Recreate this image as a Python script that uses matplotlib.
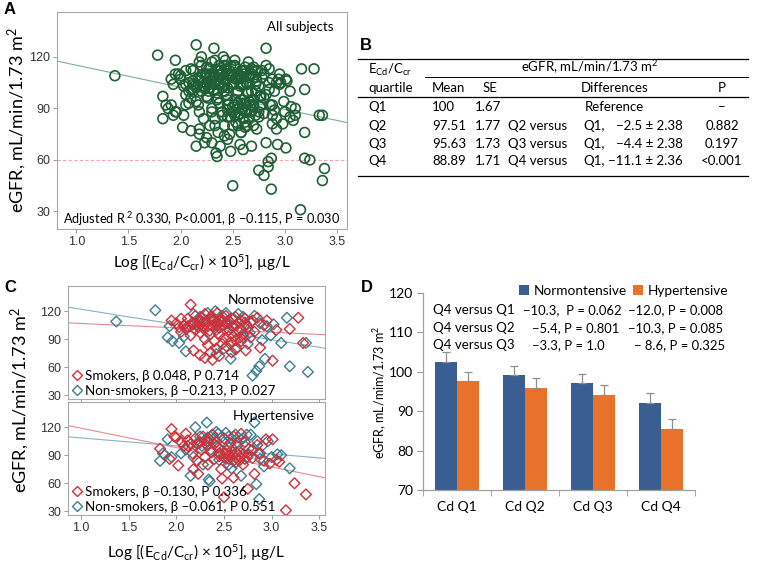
import numpy as np
import matplotlib
matplotlib.use('Agg')
import matplotlib.pyplot as plt
from matplotlib.lines import Line2D
from matplotlib.patches import Patch

plt.rcParams['font.family'] = ['Lato', 'DejaVu Sans']
plt.rcParams['mathtext.fontset'] = 'custom'
plt.rcParams['mathtext.rm'] = 'Lato'
plt.rcParams['mathtext.it'] = 'Lato:italic'
plt.rcParams['mathtext.bf'] = 'Lato:bold'

# ---------------- data ----------------
# Normotensive smokers
ns_x = [1.95,2.00,2.03,2.05,2.08,2.10,2.12,2.15,2.15,2.17,2.18,2.20,2.20,2.22,2.24,2.25,2.25,2.27,2.28,2.30,
        2.30,2.30,2.32,2.33,2.35,2.35,2.36,2.37,2.38,2.38,2.40,2.40,2.42,2.42,2.43,2.44,2.45,2.45,2.47,2.48,
        2.50,2.50,2.52,2.53,2.55,2.55,2.57,2.58,2.60,2.60,2.62,2.63,2.65,2.66,2.68,2.70,2.72,2.73,2.75,2.78,
        2.80,2.82,2.85,2.88,2.92,2.95,3.01,3.05,3.19,3.28,3.33,
        2.05,2.12,2.18,2.23,2.28,2.33,2.38,2.43,2.48,2.53,2.58,2.63,2.68,2.73,2.78,2.55,2.62,2.67]
ns_y = [110,107,103,98,105,101,112,127,94,108,78,115,100,105,110,97,73,113,102,117,
        90,70,108,84,112,99,76,115,104,68,110,88,100,80,118,107,95,72,112,85,
        105,91,115,82,100,110,87,76,104,93,114,80,99,108,88,95,112,78,103,92,
        110,98,113,81,105,110,67,100,101,113,86,
        112,104,106,103,108,104,110,106,109,107,112,105,110,106,108,93,89,92]
# Normotensive non-smokers
nn_x = [1.37,1.78,1.91,1.93,1.96,2.03,2.08,2.10,2.18,2.22,2.28,2.33,2.38,2.41,2.45,2.48,2.52,2.55,2.57,2.60,
        2.62,2.65,2.68,2.70,2.72,2.75,2.77,2.80,2.82,2.84,2.87,2.90,2.93,2.99,3.02,3.10,3.16,3.19,3.36,3.38,
        2.35,2.50,2.42,2.15,2.25,2.45,2.58,2.70,2.88,2.95]
nn_y = [109,121,92,104,88,86,93,77,117,110,104,118,112,120,102,115,118,107,69,112,
        79,117,100,92,108,85,97,51,115,56,61,89,69,94,106,86,113,61,86,55,
        95,80,74,104,114,110,104,114,107,104]
# Hypertensive smokers
hs_x = [1.83,1.93,1.95,1.98,2.00,2.02,2.05,2.08,2.10,2.12,2.15,2.17,2.18,2.20,2.22,2.23,2.25,2.26,2.28,2.30,
        2.32,2.33,2.35,2.37,2.38,2.40,2.42,2.44,2.45,2.47,2.48,2.50,2.50,2.52,2.55,2.57,2.58,2.60,2.62,2.64,
        2.66,2.68,2.70,2.72,2.75,2.76,2.80,2.82,2.85,2.88,2.92,2.94,2.98,3.01,3.05,3.08,3.15,3.24,3.36,2.60,2.70,
        2.45,2.50,2.53,2.56,2.60,2.63,2.67,2.72,2.76,2.12,2.22,2.32,2.40]
hs_y = [97,86,118,110,109,79,104,100,113,106,102,92,75,108,84,70,104,96,110,88,
        101,80,107,93,112,86,104,98,89,75,65,45,108,92,86,103,95,110,88,100,
        84,113,91,104,54,97,87,70,101,92,84,107,81,107,85,83,31,60,48,66,80,
        92,88,95,90,84,93,88,86,91,100,102,105,102]
# Hypertensive non-smokers
hn_x = [1.83,1.86,1.91,2.05,2.10,2.15,2.18,2.20,2.22,2.25,2.28,2.30,2.32,2.34,2.35,2.36,2.38,2.40,2.42,2.44,
        2.46,2.48,2.50,2.52,2.54,2.55,2.58,2.60,2.62,2.64,2.66,2.68,2.70,2.72,2.75,2.78,2.80,2.82,2.84,2.86,
        2.87,2.88,2.90,2.92,2.96,3.00,3.06,3.10,3.19,2.45,2.58,
        2.27,2.33,2.42,2.55,2.65,2.74,2.85,2.52,2.62,1.88,1.95]
hn_y = [84,92,107,92,96,68,88,120,103,110,80,106,125,64,62,96,112,108,100,113,
        92,110,104,114,99,80,108,90,112,104,94,68,108,100,88,112,96,125,59,92,
        43,86,100,78,105,88,91,90,76,85,76,
        100,109,115,110,109,112,105,86,82,90,88]

# regression lines (intercept, slope)
all_line = (128.0, -12.86)
norm_smk_line = (111.6, -4.7)
norm_non_line = (138.4, -16.3)
hyp_smk_line = (139.8, -20.8)
hyp_non_line = (117.1, -8.56)

# table B
tb_quart = ['Q1', 'Q2', 'Q3', 'Q4']
tb_mean = ['100', '97.51', '95.63', '88.89']
tb_se = ['1.67', '1.77', '1.73', '1.71']
tb_diff = ['', '\u22122.5 \u00b1 2.38', '\u22124.4 \u00b1 2.38', '\u221211.1 \u00b1 2.36']
tb_p = ['\u2013', '0.882', '0.197', '<0.001']

# panel D
d_cats = ['Cd Q1', 'Cd Q2', 'Cd Q3', 'Cd Q4']
d_norm = [102.5, 99.2, 97.1, 92.2]
d_norm_err = [2.4, 2.3, 2.3, 2.5]
d_hyp = [97.6, 95.9, 94.2, 85.6]
d_hyp_err = [2.4, 2.6, 2.5, 2.4]
d_rows = ['Q4 versus Q1', 'Q4 versus Q2', 'Q4 versus Q3']
d_norm_txt = ['\u221210.3,  P = 0.062', '\u22125.4, P = 0.801', '\u22123.3, P = 1.0']
d_hyp_txt = ['\u221212.0, P = 0.008', '\u221210.3, P = 0.085', '\u2212 8.6, P = 0.325']

# ---------------- figure ----------------
W, H = 759, 565
fig = plt.figure(figsize=(W/100, H/100), dpi=100)

def add_ax(l, t, r, b):
    return fig.add_axes([l/W, 1-b/H, (r-l)/W, (b-t)/H])

def ftext(x, y, s, **kw):
    return fig.text(x/W, 1-y/H, s, **kw)

def hline(x0, x1, y, lw=0.9, color='black'):
    fig.add_artist(Line2D([x0/W, x1/W], [1-y/H, 1-y/H], transform=fig.transFigure,
                          color=color, lw=lw))

ARIAL = 'Liberation Sans'
XLAB = r'Log [(E$_{\mathrm{Cd}}$/C$_{\mathrm{cr}}$) × 10$^{5}$], µg/L'
YLAB = r'eGFR, mL/min/1.73 m$^{2}$'
GREEN = '#1f5f35'
RED = '#d0303a'
BLUE = '#3c7d92'

def style_scatter_axes(ax):
    for sp in ax.spines.values():
        sp.set_color('#a8a8a8')
        sp.set_linewidth(0.8)
    ax.tick_params(direction='out', length=3, width=0.7, color='#999999',
                   labelsize=9, labelcolor='#333333', pad=2)
    for lbl in ax.get_xticklabels() + ax.get_yticklabels():
        lbl.set_fontfamily(ARIAL)

# ---- Panel A ----
axA = add_ax(57, 12, 347, 229)
all_x = ns_x + nn_x + hs_x + hn_x
all_y = ns_y + nn_y + hs_y + hn_y
axA.set_xlim(0.815, 3.596)
axA.set_ylim(19.8, 146.1)
axA.axhline(60, color='#f4a3ad', lw=0.8, ls=(0, (3, 2)))
xs = np.array(axA.get_xlim())
axA.plot(xs, all_line[0] + all_line[1]*xs, color='#7db18e', lw=0.8)
axA.scatter(all_x, all_y, s=50, facecolors='none', edgecolors=GREEN, linewidths=1.2, zorder=3)
axA.set_xticks([1.0, 1.5, 2.0, 2.5, 3.0, 3.5])
axA.set_xticklabels(['1.0', '1.5', '2.0', '2.5', '3.0', '3.5'])
axA.set_yticks([30, 60, 90, 120])
style_scatter_axes(axA)
axA.text(0.955, 0.93, 'All subjects', transform=axA.transAxes, ha='right', va='center', fontsize=9.5)
axA.text(0.5, 0.045, 'Adjusted R$^{\\ 2}$ 0.330, P<0.001, β \u22120.115, P = 0.030',
         transform=axA.transAxes, ha='center', va='center', fontsize=9.2)
ftext(202, 263, XLAB, ha='center', va='center', fontsize=11)
ftext(17, 120, YLAB, ha='center', va='center', rotation=90, fontsize=13)
ftext(10, 10, 'A', ha='center', va='center', fontsize=12, fontweight='bold', family=ARIAL)

# ---- Panel C ----
def c_panel(ax, sx, sy, nx, ny, sline, nline, title, slab, nlab, show_x):
    ax.set_xlim(0.864, 3.56)
    ax.set_ylim(26, 147)
    xs = np.array(ax.get_xlim())
    ax.plot(xs, sline[0] + sline[1]*xs, color='#e58a8f', lw=0.8)
    ax.plot(xs, nline[0] + nline[1]*xs, color='#86b3c4', lw=0.8)
    ax.scatter(nx, ny, s=30, marker='D', facecolors='none', edgecolors=BLUE, linewidths=1.0, zorder=3)
    ax.scatter(sx, sy, s=30, marker='D', facecolors='none', edgecolors=RED, linewidths=1.0, zorder=3)
    ax.set_yticks([30, 60, 90, 120])
    ax.set_xticks([1.0, 1.5, 2.0, 2.5, 3.0, 3.5])
    if show_x:
        ax.set_xticklabels(['1.0', '1.5', '2.0', '2.5', '3.0', '3.5'])
    else:
        ax.set_xticklabels([])
        ax.tick_params(axis='x', length=0)
    style_scatter_axes(ax)
    ax.text(0.96, 0.88, title, transform=ax.transAxes, ha='right', va='center', fontsize=10)
    handles = [Line2D([], [], ls='none', marker='D', ms=5.5, mfc='none', mec=RED, mew=1.0),
               Line2D([], [], ls='none', marker='D', ms=5.5, mfc='none', mec=BLUE, mew=1.0)]
    ax.legend(handles, [slab, nlab], loc='lower left', frameon=False, fontsize=9.6,
              handletextpad=0.1, handlelength=1.0, labelspacing=0.25,
              borderaxespad=0.0, borderpad=0.15)

axC1 = add_ax(68, 286, 325, 399)
c_panel(axC1, ns_x, ns_y, nn_x, nn_y, norm_smk_line, norm_non_line, 'Normotensive',
        'Smokers, β 0.048, P 0.714', 'Non-smokers, β \u22120.213, P 0.027', False)
axC2 = add_ax(68, 402, 325, 515)
c_panel(axC2, hs_x, hs_y, hn_x, hn_y, hyp_smk_line, hyp_non_line, 'Hypertensive',
        'Smokers, β \u22120.130, P 0.336', 'Non-smokers, β \u22120.061, P 0.551', True)
ftext(196, 553, XLAB, ha='center', va='center', fontsize=11)
ftext(20, 400, YLAB, ha='center', va='center', rotation=90, fontsize=13)
ftext(10, 288, 'C', ha='center', va='center', fontsize=12, fontweight='bold', family=ARIAL)

# ---- Panel B (table) ----
ftext(366, 46, 'B', ha='center', va='center', fontsize=12, fontweight='bold', family=ARIAL)
TF = 9.5
hline(358, 748, 59)
ftext(368, 70, r'E$_{\mathrm{Cd}}$/C$_{\mathrm{cr}}$', ha='left', va='center', fontsize=TF)
ftext(590, 67, r'eGFR, mL/min/1.73 m$^{2}$', ha='center', va='center', fontsize=TF)
hline(425, 748, 77, lw=0.7)
ftext(368, 88, 'quartile', ha='left', va='center', fontsize=TF)
ftext(432, 88, 'Mean', ha='left', va='center', fontsize=TF)
ftext(483, 88, 'SE', ha='left', va='center', fontsize=TF)
ftext(615, 88, 'Differences', ha='center', va='center', fontsize=TF)
ftext(722, 88, 'P', ha='center', va='center', fontsize=TF)
hline(358, 748, 97)
row_y = [107, 125.5, 143.5, 161.5]
for i, yy in enumerate(row_y):
    ftext(368, yy, tb_quart[i], ha='left', va='center', fontsize=TF)
    ftext(432, yy, tb_mean[i], ha='left', va='center', fontsize=TF)
    ftext(475, yy, tb_se[i], ha='left', va='center', fontsize=TF)
    if i == 0:
        ftext(585, yy, 'Reference', ha='left', va='center', fontsize=TF)
    else:
        ftext(508, yy, tb_quart[i] + ' versus', ha='left', va='center', fontsize=TF)
        ftext(583, yy, 'Q1,', ha='left', va='center', fontsize=TF)
        ftext(683, yy, tb_diff[i], ha='right', va='center', fontsize=TF)
    ftext(722, yy, tb_p[i], ha='center', va='center', fontsize=TF)
hline(358, 748, 176)

# ---- Panel D ----
axD = add_ax(423, 293, 695, 490)
idx = np.arange(len(d_cats))
w = 0.33
ekw = dict(ecolor='#8f8f8f', elinewidth=0.9, capsize=3, capthick=0.9)
axD.bar(idx - w/2, d_norm, w, color='#3a5d92', yerr=[[0]*4, d_norm_err], error_kw=ekw, zorder=2)
axD.bar(idx + w/2, d_hyp, w, color='#e8722a', yerr=[[0]*4, d_hyp_err], error_kw=ekw, zorder=2)
axD.set_xlim(-0.5, 3.5)
axD.set_ylim(70, 120)
axD.set_yticks([70, 80, 90, 100, 110, 120])
axD.set_xticks(idx)
axD.set_xticklabels(d_cats)
axD.set_xticks([-0.5, 0.5, 1.5, 2.5, 3.5], minor=True)
axD.tick_params(axis='x', which='major', length=0, pad=8, labelsize=10)
axD.tick_params(axis='x', which='minor', length=4, color='#999999')
axD.tick_params(axis='y', length=4, color='#999999', labelsize=10, pad=3)
for s in ['top', 'right']:
    axD.spines[s].set_visible(False)
for s in ['left', 'bottom']:
    axD.spines[s].set_color('#a0a0a0')
    axD.spines[s].set_linewidth(0.9)
ftext(380, 392, r'eGFR, mL/mim/1.73 m$^{2}$', ha='center', va='center', rotation=90, fontsize=9)
ftext(367, 288, 'D', ha='center', va='center', fontsize=12, fontweight='bold', family=ARIAL)
row_ys = [310, 328, 345]
norm_x = [523, 532, 532]
hyp_x = [628, 628, 634]
for i, yy in enumerate(row_ys):
    ftext(433, yy, d_rows[i], ha='left', va='center', fontsize=9.6)
    ftext(norm_x[i], yy, d_norm_txt[i], ha='left', va='center', fontsize=9.4)
    ftext(hyp_x[i], yy, d_hyp_txt[i], ha='left', va='center', fontsize=9.4)
leg_h = [Patch(facecolor='#3a5d92'), Patch(facecolor='#e8722a')]
fig.legend(leg_h, ['Normontensive', 'Hypertensive'], loc='center left',
           bbox_to_anchor=(519/W, 1-291/H), ncol=2, frameon=False, fontsize=9.8,
           handlelength=0.75, handleheight=0.75, handletextpad=0.3, columnspacing=0.5,
           borderpad=0, borderaxespad=0)

fig.savefig('out.png', dpi=100)
